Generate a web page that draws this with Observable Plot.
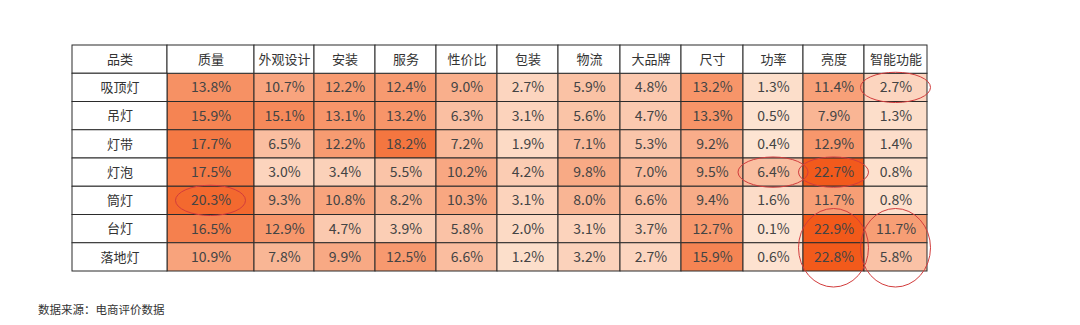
<!DOCTYPE html>
<html><head><meta charset="utf-8">
<script src="https://cdn.jsdelivr.net/npm/d3@7"></script>
<script src="https://cdn.jsdelivr.net/npm/@observablehq/plot@0.6"></script>
<style>
body{margin:0;background:#fff;font-family:"Noto Sans CJK SC","Noto Sans",sans-serif}
#chart{position:absolute;left:0;top:0}
#caption{position:absolute;left:38px;top:301px;font-size:11.5px;color:#333;font-family:"Noto Sans CJK SC",sans-serif}
</style>
</head><body>
<div id="chart"></div>
<div id="caption">数据来源：电商评价数据</div>
<script>
// ---- data ----
const headerLabel = "品类";
const categories = ["吸顶灯","吊灯","灯带","灯泡","筒灯","台灯","落地灯"];
const features = ["质量","外观设计","安装","服务","性价比","包装","物流","大品牌","尺寸","功率","亮度","智能功能"];
const values = [
  [13.8,10.7,12.2,12.4, 9.0,2.7,5.9,4.8,13.2,1.3,11.4, 2.7],
  [15.9,15.1,13.1,13.2, 6.3,3.1,5.6,4.7,13.3,0.5, 7.9, 1.3],
  [17.7, 6.5,12.2,18.2, 7.2,1.9,7.1,5.3, 9.2,0.4,12.9, 1.4],
  [17.5, 3.0, 3.4, 5.5,10.2,4.2,9.8,7.0, 9.5,6.4,22.7, 0.8],
  [20.3, 9.3,10.8, 8.2,10.3,3.1,8.0,6.6, 9.4,1.6,11.7, 0.8],
  [16.5,12.9, 4.7, 3.9, 5.8,2.0,3.1,3.7,12.7,0.1,22.9,11.7],
  [10.9, 7.8, 9.9,12.5, 6.6,1.2,3.2,2.7,15.9,0.6,22.8, 5.8]
];
// highlighted (circled) cells: category, feature, number of rows spanned
const highlightCats  = ["吸顶灯","筒灯","灯泡","灯泡","台灯","台灯"];
const highlightFeats = ["智能功能","质量","功率","亮度","亮度","智能功能"];
const highlightSpans = [1,1,1,1,2,2];

// ---- layout (relative column widths; first = label column) ----
const colUnits = [95,87,60,61,61,61,61,62,61,62,60,61,63];
const colStart = colUnits.map((_, i) => d3.sum(colUnits.slice(0, i)));
const totalUnits = d3.sum(colUnits);
const nRows = categories.length + 1;

const H = 290;
const cells = [];
values.forEach((row, i) => row.forEach((v, j) => cells.push({
  cat: categories[i], feat: features[j], v,
  x1: colStart[j + 1], x2: colStart[j + 1] + colUnits[j + 1], y1: i + 1, y2: i + 2
})));
const heads = [headerLabel, ...features].map((t, j) => ({t, x1: colStart[j], x2: colStart[j] + colUnits[j], y1: 0, y2: 1}));
const labels = categories.map((t, i) => ({t, x1: colStart[0], x2: colStart[0] + colUnits[0], y1: i + 1, y2: i + 2}));
const white = [...heads, ...labels];

const hl = highlightCats.map((c, k) => {
  const i = categories.indexOf(c), j = features.indexOf(highlightFeats[k]);
  return {x1: colStart[j + 1], x2: colStart[j + 1] + colUnits[j + 1], y1: i + 1, y2: i + 1 + highlightSpans[k], span: highlightSpans[k]};
});

const ellipses = (index, scales) => {
  const g = d3.create("svg:g").attr("fill", "none").attr("stroke", "#d23c3c").attr("stroke-width", 1);
  const rowH = Math.abs(scales.y(1) - scales.y(0));
  for (const d of hl) {
    const cx = (scales.x(d.x1) + scales.x(d.x2)) / 2;
    const cy = (scales.y(d.y1) + scales.y(d.y2)) / 2 + (d.span > 1 ? 5 : 0);
    g.append("ellipse").attr("cx", cx).attr("cy", cy)
      .attr("rx", 35).attr("ry", rowH * d.span / 2 + (d.span - 1) * 10 + 1);
  }
  return g.node();
};

const plot = Plot.plot({
  width: 1080, height: H,
  marginLeft: 72, marginRight: 153, marginTop: 45, marginBottom: H - 271,
  x: {type: "linear", domain: [0, totalUnits], axis: null},
  y: {type: "linear", domain: [0, nRows], reverse: true, axis: null},
  color: {type: "linear", domain: [0, 22.9], range: ["#fde6d5", "#f2591a"]},
  style: {fontFamily: "'Noto Sans CJK SC', sans-serif", background: "white"},
  marks: [
    Plot.rect(cells, {x1: "x1", x2: "x2", y1: "y1", y2: "y2", fill: "v", stroke: "#2b2b2b", strokeWidth: 1}),
    Plot.rect(white, {x1: "x1", x2: "x2", y1: "y1", y2: "y2", fill: "white", stroke: "#2b2b2b", strokeWidth: 1}),
    Plot.text(cells, {x: d => (d.x1 + d.x2) / 2, y: d => (d.y1 + d.y2) / 2, text: d => d.v.toFixed(1) + "%", fill: "#444", fontSize: 14}),
    Plot.text(white, {x: d => (d.x1 + d.x2) / 2, y: d => (d.y1 + d.y2) / 2, text: "t", fill: "#333", fontSize: 13}),
    ellipses
  ]
});
document.getElementById("chart").append(plot);
</script>
</body></html>
